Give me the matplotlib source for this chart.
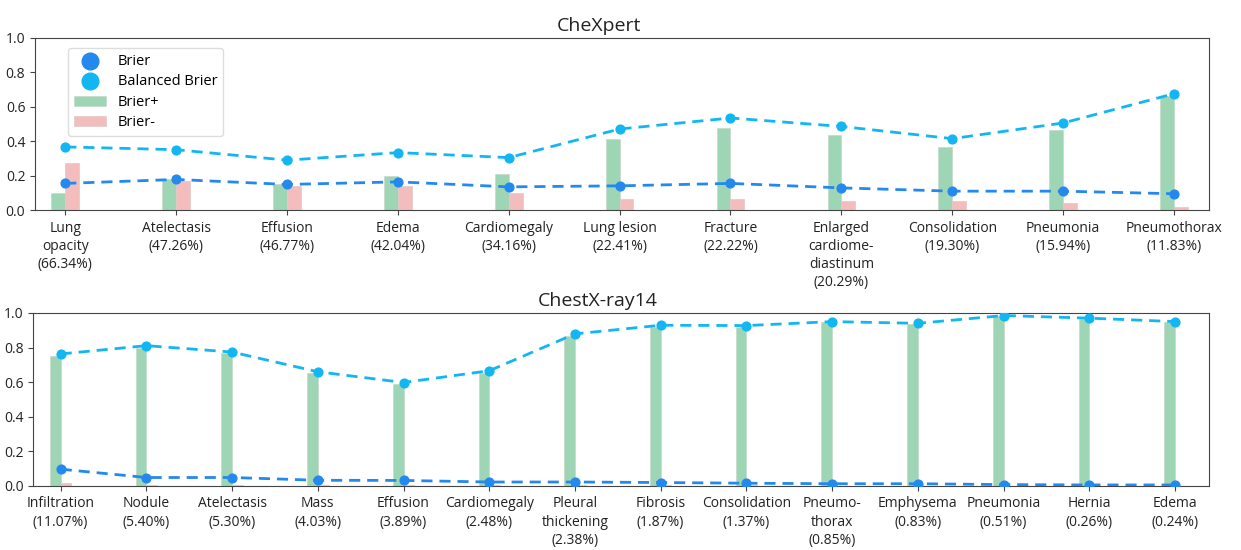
import numpy as np
import matplotlib
matplotlib.use("Agg")
from matplotlib import pyplot as plt

plt.rcParams['font.family'] = ['Open Sans', 'DejaVu Sans']

# CheXpert per-class scores
chex_labels = ["Lung\nopacity\n(66.34%)", "Atelectasis\n(47.26%)", "Effusion\n(46.77%)",
               "Edema\n(42.04%)", "Cardiomegaly\n(34.16%)", "Lung lesion\n(22.41%)",
               "Fracture\n(22.22%)", "Enlarged\ncardiome-\ndiastinum\n(20.29%)",
               "Consolidation\n(19.30%)", "Pneumonia\n(15.94%)", "Pneumothorax\n(11.83%)"]
chex_brier = [0.155, 0.178, 0.149, 0.164, 0.135, 0.141, 0.155, 0.129, 0.110, 0.110, 0.095]
chex_balanced = [0.367, 0.351, 0.290, 0.334, 0.305, 0.471, 0.535, 0.486, 0.415, 0.506, 0.676]
chex_pos = [0.100, 0.178, 0.150, 0.200, 0.212, 0.411, 0.475, 0.438, 0.367, 0.463, 0.660]
chex_neg = [0.274, 0.170, 0.140, 0.140, 0.097, 0.064, 0.064, 0.052, 0.052, 0.044, 0.020]

# ChestX-ray14 per-class scores
cxr_labels = ["Infiltration\n(11.07%)", "Nodule\n(5.40%)", "Atelectasis\n(5.30%)",
              "Mass\n(4.03%)", "Effusion\n(3.89%)", "Cardiomegaly\n(2.48%)",
              "Pleural\nthickening\n(2.38%)", "Fibrosis\n(1.87%)", "Consolidation\n(1.37%)",
              "Pneumo-\nthorax\n(0.85%)", "Emphysema\n(0.83%)", "Pneumonia\n(0.51%)",
              "Hernia\n(0.26%)", "Edema\n(0.24%)"]
cxr_brier = [0.097, 0.049, 0.049, 0.033, 0.032, 0.023, 0.023, 0.020, 0.016, 0.013, 0.013, 0.008, 0.006, 0.006]
cxr_balanced = [0.763, 0.811, 0.774, 0.660, 0.598, 0.666, 0.879, 0.929, 0.927, 0.950, 0.940, 0.985, 0.970, 0.950]
cxr_pos = [0.749, 0.800, 0.770, 0.655, 0.590, 0.652, 0.866, 0.920, 0.920, 0.945, 0.935, 0.980, 0.965, 0.945]
cxr_neg = [0.017, 0.005, 0.005, 0.004, 0.004, 0.003, 0.003, 0.003, 0.003, 0.002, 0.002, 0.002, 0.001, 0.001]

c_brier = '#2489ee'
c_bal = '#12b6f2'
c_pos = '#9ed6b5'
c_neg = '#f4bdbd'
w = 0.125


def panel(ax, labels, brier, bal, pos, neg, title, xlim):
    x = np.arange(len(labels))
    ax.bar(x - w / 2, pos, width=w, color=c_pos, edgecolor='#c8d8cc', linewidth=0.5, label='Brier+', zorder=1)
    ax.bar(x + w / 2, neg, width=w, color=c_neg, edgecolor='#e0c8c8', linewidth=0.5, label='Brier-', zorder=1)
    ax.plot(x, brier, '--', color=c_brier, lw=2, dashes=(4, 2.5), zorder=3)
    ax.plot(x, bal, '--', color=c_bal, lw=2, dashes=(4, 2.5), zorder=3)
    ax.scatter(x, brier, s=40, color=c_brier, zorder=4, label='Brier')
    ax.scatter(x, bal, s=40, color=c_bal, zorder=4, label='Balanced Brier')
    ax.set_xticks(x)
    ax.set_xticklabels(labels, fontsize=10, color='#222222', linespacing=1.3)
    ax.set_ylim(0, 1.0)
    ax.set_yticks([0, 0.2, 0.4, 0.6, 0.8, 1.0])
    ax.set_yticklabels(['0.0', '0.2', '0.4', '0.6', '0.8', '1.0'], fontsize=10, color='#222222')
    ax.set_xlim(*xlim)
    ax.set_title(title, fontsize=14, pad=5, color='#222222', x=0.48)
    for s in ax.spines.values():
        s.set_color('#444444')
    ax.tick_params(length=3.5, color='#444444')
    ax.tick_params(axis='x', pad=4)


fig = plt.figure(figsize=(12.41, 5.5), dpi=100)
ax1 = fig.add_axes([0.0282, 0.618, 0.9462, 0.313])
ax2 = fig.add_axes([0.0268, 0.1164, 0.9476, 0.3146])

panel(ax1, chex_labels, chex_brier, chex_balanced, chex_pos, chex_neg, 'CheXpert', (-0.273, 10.318))
panel(ax2, cxr_labels, cxr_brier, cxr_balanced, cxr_pos, cxr_neg, 'ChestX-ray14', (-0.32, 13.4))

h, l = ax1.get_legend_handles_labels()
order = [l.index(k) for k in ['Brier', 'Balanced Brier', 'Brier+', 'Brier-']]
leg = ax1.legend([h[i] for i in order], [l[i] for i in order], loc='upper left',
                 bbox_to_anchor=(0.022, 0.985), fontsize=10.5, markerscale=1.9,
                 handlelength=2.2, labelspacing=0.38, borderpad=0.4, framealpha=1)
leg.get_frame().set_edgecolor('#dddddd')

fig.savefig('out.png', dpi=100)
